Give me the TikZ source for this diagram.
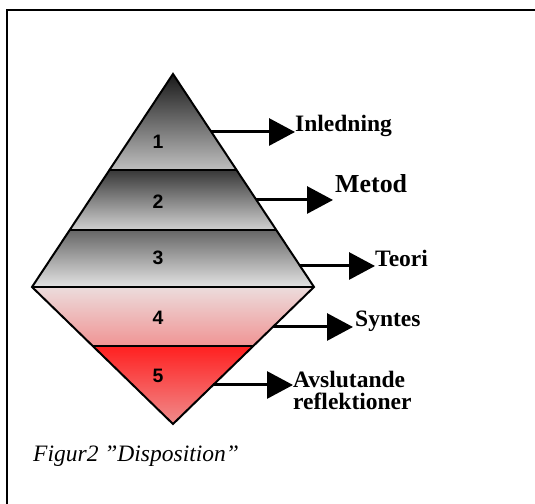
\documentclass[tikz,border=0pt]{standalone}
\usepackage{fontspec}
\setmainfont{Liberation Serif}
\newfontfamily\digitfont{Liberation Sans}
\usetikzlibrary{arrows.meta}
\begin{document}
\begin{tikzpicture}[x=1bp,y=1bp,
 outline/.style={line width=2bp, line join=miter},
 sepline/.style={line width=1.6bp},
 num/.style={font=\digitfont\bfseries\fontsize{19.5}{19.5}\selectfont, inner sep=0},
 lab/.style={font=\bfseries\fontsize{23.6}{23}\selectfont, inner sep=0, anchor=base west},
 arr/.style={line width=3bp, -{Triangle[length=26bp,width=27bp]}},
 framestyle/.style={line width=2bp}]
\useasboundingbox (0,0) rectangle (535,504);
\draw[framestyle] (7,0) -- (7,494) -- (535,494);
% pyramid geometry
\coordinate (T) at (173,430);
\coordinate (L) at (32,217);
\coordinate (R) at (314,217);
\coordinate (B) at (173,80);
\coordinate (a1l) at (109.5,334); \coordinate (a1r) at (236.5,334);
\coordinate (a2l) at (69.7,274);  \coordinate (a2r) at (276.3,274);
\coordinate (a4l) at (92.7,158);  \coordinate (a4r) at (253.3,158);
% bands
\shade[top color=black!90, bottom color=black!25] (T) -- (a1r) -- (a1l) -- cycle;
\shade[top color=black!78, bottom color=black!18] (a1l) -- (a1r) -- (a2r) -- (a2l) -- cycle;
\shade[top color=black!60, bottom color=black!11] (a2l) -- (a2r) -- (R) -- (L) -- cycle;
\shade[top color={rgb,255:red,236;green,220;blue,220}, bottom color={rgb,255:red,240;green,148;blue,148}] (L) -- (R) -- (a4r) -- (a4l) -- cycle;
\shade[top color={rgb,255:red,255;green,32;blue,32}, bottom color={rgb,255:red,240;green,140;blue,140}] (a4l) -- (a4r) -- (B) -- cycle;
\draw[sepline] (a1l) -- (a1r) (a2l) -- (a2r) (L) -- (R) (a4l) -- (a4r);
\draw[outline] (T) -- (R) -- (B) -- (L) -- cycle;
% numbers
\node[num] (n1) at (158,362) {1};
\node[num] (n2) at (158,302) {2};
\node[num] (n3) at (158,246) {3};
\node[num] (n4) at (158,186) {4};
\node[num] (n5) at (158,128) {5};
% labels
\node[lab] (t1) at (295,372) {Inledning};
\node[lab, font=\bfseries\fontsize{26}{26}\selectfont] (t2) at (335,311) {Metod};
\node[lab] (t3) at (375,237) {Teori};
\node[lab] (t4) at (355,177) {Syntes};
\node[lab, align=left] (t5) at (293,94) {Avslutande\\reflektioner};
% arrow starts on the pyramid edge
\coordinate (s1) at (211.4,372);
\coordinate (s2) at (256,304);
\coordinate (s3) at (300,238);
\coordinate (s4) at (272.8,177);
\coordinate (s5) at (213,119);
\draw[arr] (s1) -- (s1 -| t1.west);
\draw[arr] (s2) -- ([xshift=-2bp]s2 -| t2.west);
\draw[arr] (s3) -- (s3 -| t3.west);
\draw[arr] (s4) -- ([xshift=-2bp]s4 -| t4.west);
\draw[arr] (s5) -- (s5 -| t5.west);
% caption
\node[inner sep=0, anchor=base west, font=\itshape\fontsize{23.6}{23}\selectfont] (cap) at (33,42) {Figur2 ”Disposition”};
\end{tikzpicture}
\end{document}
